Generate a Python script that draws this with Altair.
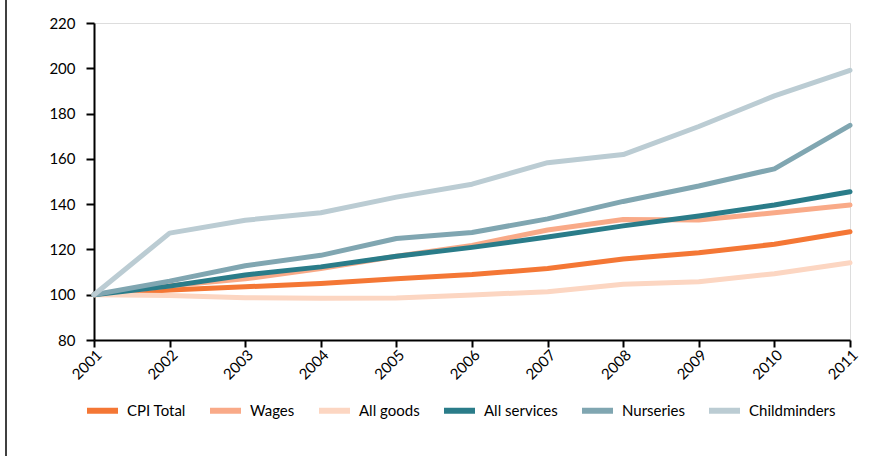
import altair as alt
import pandas as pd

years = [2001, 2002, 2003, 2004, 2005, 2006, 2007, 2008, 2009, 2010, 2011]
series_names = ["CPI Total", "Wages", "All goods", "All services", "Nurseries", "Childminders"]
colors = ["#F47735", "#F9AA88", "#FCD6C2", "#2A7C89", "#80A6B1", "#BBCCD3"]

cpi_total = [100, 102.1, 103.5, 105.0, 107.0, 108.9, 111.6, 115.8, 118.5, 122.3, 127.8]
wages = [100, 104.0, 107.0, 111.6, 117.0, 121.8, 128.6, 133.2, 133.0, 136.2, 139.6]
all_goods = [100, 99.7, 98.7, 98.4, 98.6, 99.9, 101.3, 104.6, 105.7, 109.3, 114.1]
all_services = [100, 103.8, 108.7, 112.3, 117.0, 120.9, 125.5, 130.4, 134.8, 139.6, 145.5]
nurseries = [100, 106.0, 112.8, 117.4, 124.8, 127.5, 133.5, 141.2, 148.0, 155.6, 174.8]
childminders = [100, 127.2, 132.9, 136.2, 143.1, 148.8, 158.3, 161.9, 174.3, 187.8, 199.1]

values = [cpi_total, wages, all_goods, all_services, nurseries, childminders]
rows = []
for order, (name, vals) in enumerate(zip(series_names, values)):
    for y, v in zip(years, vals):
        rows.append({"Year": y, "Series": name, "Value": v, "ord": order})
df = pd.DataFrame(rows)

FONT = "Lato"

lines = alt.Chart(df).mark_line(strokeWidth=5, strokeCap="round", strokeJoin="round").encode(
    x=alt.X("Year:Q", scale=alt.Scale(domain=[2001, 2011], nice=False, zero=False),
            axis=alt.Axis(values=years, format="d", labelAngle=-45, labelAlign="right",
                          labelBaseline="top", tickSize=7, labelPadding=0, title=None,
                          grid=False, domainColor="#000", tickColor="#000", domainWidth=2,
                          tickWidth=2, labelColor="#000", labelFontSize=15, labelFont=FONT)),
    y=alt.Y("Value:Q", scale=alt.Scale(domain=[80, 220], nice=False, zero=False),
            axis=alt.Axis(values=list(range(80, 221, 20)), tickSize=8, labelPadding=11, title=None,
                          grid=False, domainColor="#000", tickColor="#000", domainWidth=2,
                          tickWidth=2, labelColor="#000", labelFontSize=15, labelFont=FONT)),
    color=alt.Color("Series:N", scale=alt.Scale(domain=series_names, range=colors),
                    sort=series_names,
                    legend=alt.Legend(orient="none", legendX=-10, legendY=369, direction="horizontal",
                                      title=None, symbolType="stroke", symbolStrokeWidth=6,
                                      symbolSize=961, labelFontSize=15, labelFont=FONT,
                                      labelColor="#000", columnPadding=12, labelOffset=6)),
    detail="Series:N",
    order=alt.Order("ord:Q", sort="descending"),
)

border = alt.Chart(pd.DataFrame({"a": [0]})).mark_rule(color="#000", strokeWidth=1.5).encode(
    x=alt.value(-88), y=alt.value(-30), y2=alt.value(440)
)

chart = alt.layer(border, lines).properties(
    width=756, height=317,
    autosize=alt.AutoSizeParams(type="none"),
    padding={"left": 94, "top": 23, "right": 34, "bottom": 116},
).configure_view(stroke=None).configure(font=FONT, background="white")

chart.save("out.html", embed_options={"renderer": "svg", "actions": False})
